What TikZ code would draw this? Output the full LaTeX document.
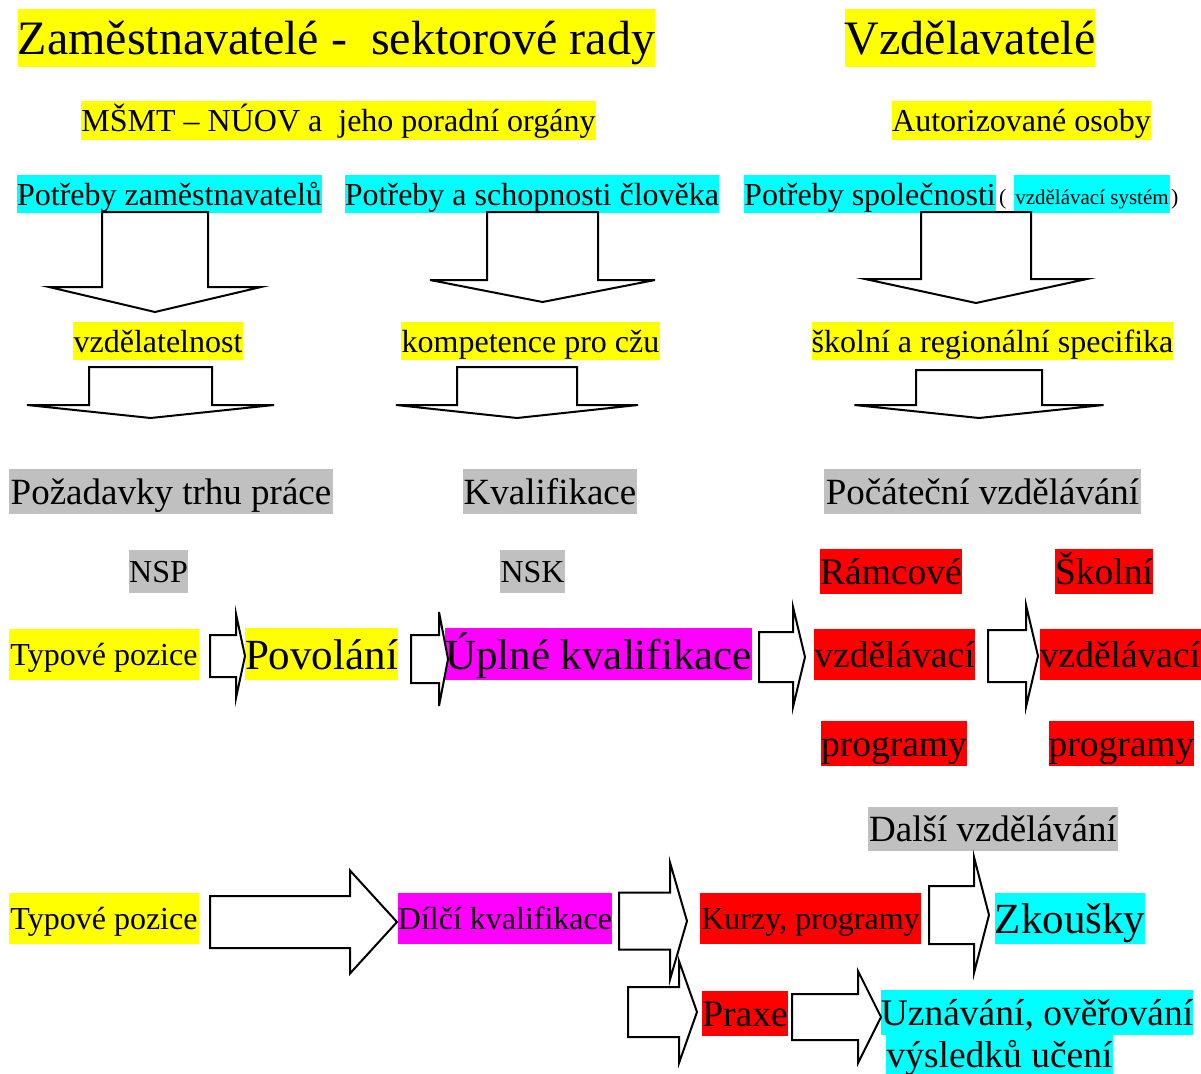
\documentclass[tikz,border=0pt]{standalone}
\usepackage{fontspec}
\setmainfont{Liberation Serif}

\definecolor{hlyellow}{RGB}{255,255,0}
\definecolor{hlcyan}{RGB}{0,255,255}
\definecolor{hlmagenta}{RGB}{255,0,255}
\definecolor{hlred}{RGB}{255,0,0}
\definecolor{hlgray}{RGB}{192,192,192}

\newcommand{\fsz}[1]{\fontsize{#1}{#1}\selectfont}
\newcommand{\hlstrut}{\rule[-0.25em]{0pt}{1.2em}}

% block arrows: centre x, top, shoulder, tip, shaft half, wing half
\newcommand{\downarr}[6]{%
  \draw[blk] (#1-#5,#2) -- (#1+#5,#2) -- (#1+#5,#3) -- (#1+#6,#3) -- %
  (#1,#4) -- (#1-#6,#3) -- (#1-#5,#3) -- cycle ;}
% left x, head base x, tip x, centre y, shaft half, head half
\newcommand{\rightarr}[6]{%
  \draw[blk] (#1,#4-#5) -- (#2,#4-#5) -- (#2,#4-#6) -- (#3,#4) -- %
  (#2,#4+#6) -- (#2,#4+#5) -- (#1,#4+#5) -- cycle ;}

\tikzset{
  tag/.style={inner sep=0pt, execute at begin node=\hlstrut},
  yel/.style={tag, fill=hlyellow},
  cya/.style={tag, fill=hlcyan},
  mag/.style={tag, fill=hlmagenta},
  rd/.style={tag, fill=hlred},
  gry/.style={tag, fill=hlgray},
  wh/.style 2 args={minimum width=#1, minimum height=#2},
  blk/.style={draw, line width=2pt, fill=white},
}

\begin{document}
\begin{tikzpicture}[x=1pt,y=-1pt]
      \useasboundingbox (0,0) rectangle (1201,1073) ;
      % headings
      \node[yel, font=\fsz{48}, wh={637}{56}] (tZam) at (336.5,38) %
      {Zaměstnavatelé -\ \ sektorové rady} ;
      \node[yel, font=\fsz{48}, wh={250}{56}] (tVzd) at (970,38) {Vzdělavatelé} ;
      \node[yel, font=\fsz{32}, wh={515}{39}] (tMsmt) at (338.5,120.5) %
      {MŠMT – NÚOV a\ \ jeho poradní orgány} ;
      \node[yel, font=\fsz{32}, wh={259}{39}] (tAut) at (1021.5,120.5) {Autorizované osoby} ;
      % needs
      \node[cya, font=\fsz{32}, wh={305}{38}] (pZam) at (169.5,194) {Potřeby zaměstnavatelů} ;
      \node[cya, font=\fsz{32}, wh={374}{38}] (pClo) at (532,194) {Potřeby a schopnosti člověka} ;
      \node[cya, font=\fsz{32}, wh={252}{38}] (pSpo) at (870,194) {Potřeby společnosti} ;
      \node[font=\fsz{22}, inner sep=0pt, anchor=base west] (parL) at (999,204) {(} ;
      \node[cya, font=\fsz{21}, minimum width=156, text height=29pt, text depth=9pt, %
      anchor=base] (pSys) at (1092,204) {vzdělávací systém} ;
      \node[font=\fsz{22}, inner sep=0pt, anchor=base west] (parR) at (1171,204) {)} ;
      \downarr{155}{212}{287}{312}{53}{106}
      \downarr{542.5}{212}{280}{302}{55.5}{112.5}
      \downarr{976}{212}{279}{303}{55}{111}
      \node[yel, font=\fsz{32}, wh={170}{38}] (vVzd) at (158,341) {vzdělatelnost} ;
      \node[yel, font=\fsz{32}, wh={259}{38}] (vKom) at (530.5,341) {kompetence pro cžu} ;
      \node[yel, font=\fsz{32}, wh={361}{38}] (vSko) at (992.5,341) %
      {školní a regionální specifika} ;
      \downarr{150.5}{367}{405}{418}{61.5}{123.5}
      \downarr{517}{367}{405}{418}{60}{121}
      \downarr{979}{370}{405}{418}{63}{124.5}
      % grey headings
      \node[gry, font=\fsz{37}, wh={324}{43}] (gPoz) at (171,491.5) {Požadavky trhu práce} ;
      \node[gry, font=\fsz{37}, wh={174}{43}] (gKva) at (550,491.5) {Kvalifikace} ;
      \node[gry, font=\fsz{37}, wh={317}{43}] (gPoc) at (982.5,491.5) {Počáteční vzdělávání} ;
      \node[gry, font=\fsz{32}, wh={59}{43}] (gNsp) at (158.5,571.5) {NSP} ;
      \node[gry, font=\fsz{32}, wh={65}{43}] (gNsk) at (532.5,571.5) {NSK} ;
      % initial education row
      \node[rd, font=\fsz{37.5}, wh={142}{43}] (rRam) at (891,571.5) {Rámcové} ;
      \node[rd, font=\fsz{37.5}, wh={98}{43}] (rSko) at (1104,571.5) {Školní} ;
      \node[yel, font=\fsz{32}, wh={190}{51}] (yTypA) at (104,654) {Typové pozice} ;
      \node[yel, font=\fsz{43}, wh={151}{51}] (yPov) at (321.5,654) {Povolání} ;
      \node[mag, font=\fsz{43}, wh={305}{51}] (mUpl) at (598.5,654) {Úplné kvalifikace} ;
      \node[rd, font=\fsz{37.5}, wh={161}{51}] (rVzdA) at (894.5,654) {vzdělávací} ;
      \node[rd, font=\fsz{37.5}, wh={161}{51}] (rVzdB) at (1120,654) {vzdělávací} ;
      \node[rd, font=\fsz{37.5}, wh={146}{42}] (rPrgA) at (894,743) {programy} ;
      \node[rd, font=\fsz{37.5}, wh={143}{42}] (rPrgB) at (1121.5,743) {programy} ;
      \rightarr{210}{236}{245}{656}{21}{42}
      \rightarr{411}{439}{448}{659}{24}{47}
      \rightarr{759}{793}{805}{657}{25}{50}
      \rightarr{988}{1026}{1038}{656}{26}{51}
      % further education
      \node[gry, font=\fsz{37}, wh={250}{44}] (gDal) at (993,829) {Další vzdělávání} ;
      \node[yel, font=\fsz{32}, wh={190}{51}] (yTypB) at (104,918.5) {Typové pozice} ;
      \node[mag, font=\fsz{32}, wh={214}{51}] (mDil) at (505,918.5) {Dílčí kvalifikace} ;
      \node[rd, font=\fsz{32}, wh={221}{51}] (rKur) at (810.5,918.5) {Kurzy, programy} ;
      \node[cya, font=\fsz{43}, wh={150}{51}] (cZko) at (1070,918.5) {Zkoušky} ;
      \node[rd, font=\fsz{37.5}, wh={86}{44}] (rPra) at (745,1013) {Praxe} ;
      \node[cya, font=\fsz{37.5}, wh={312}{43}] (cUznA) at (1037,1012.5) {Uznávání, ověřování} ;
      \node[cya, font=\fsz{37.5}, wh={227}{43}] (cUznB) at (999.5,1054) {výsledků učení} ;
      \rightarr{210}{350}{397}{922}{26}{51.5}
      \rightarr{619}{670}{687}{921}{28.5}{58.5}
      \rightarr{628}{679}{697}{1012}{25}{51}
      \rightarr{792}{858}{881}{1017}{23}{46}
      \rightarr{929}{974}{989}{915}{29}{58}
\end{tikzpicture}
\end{document}
